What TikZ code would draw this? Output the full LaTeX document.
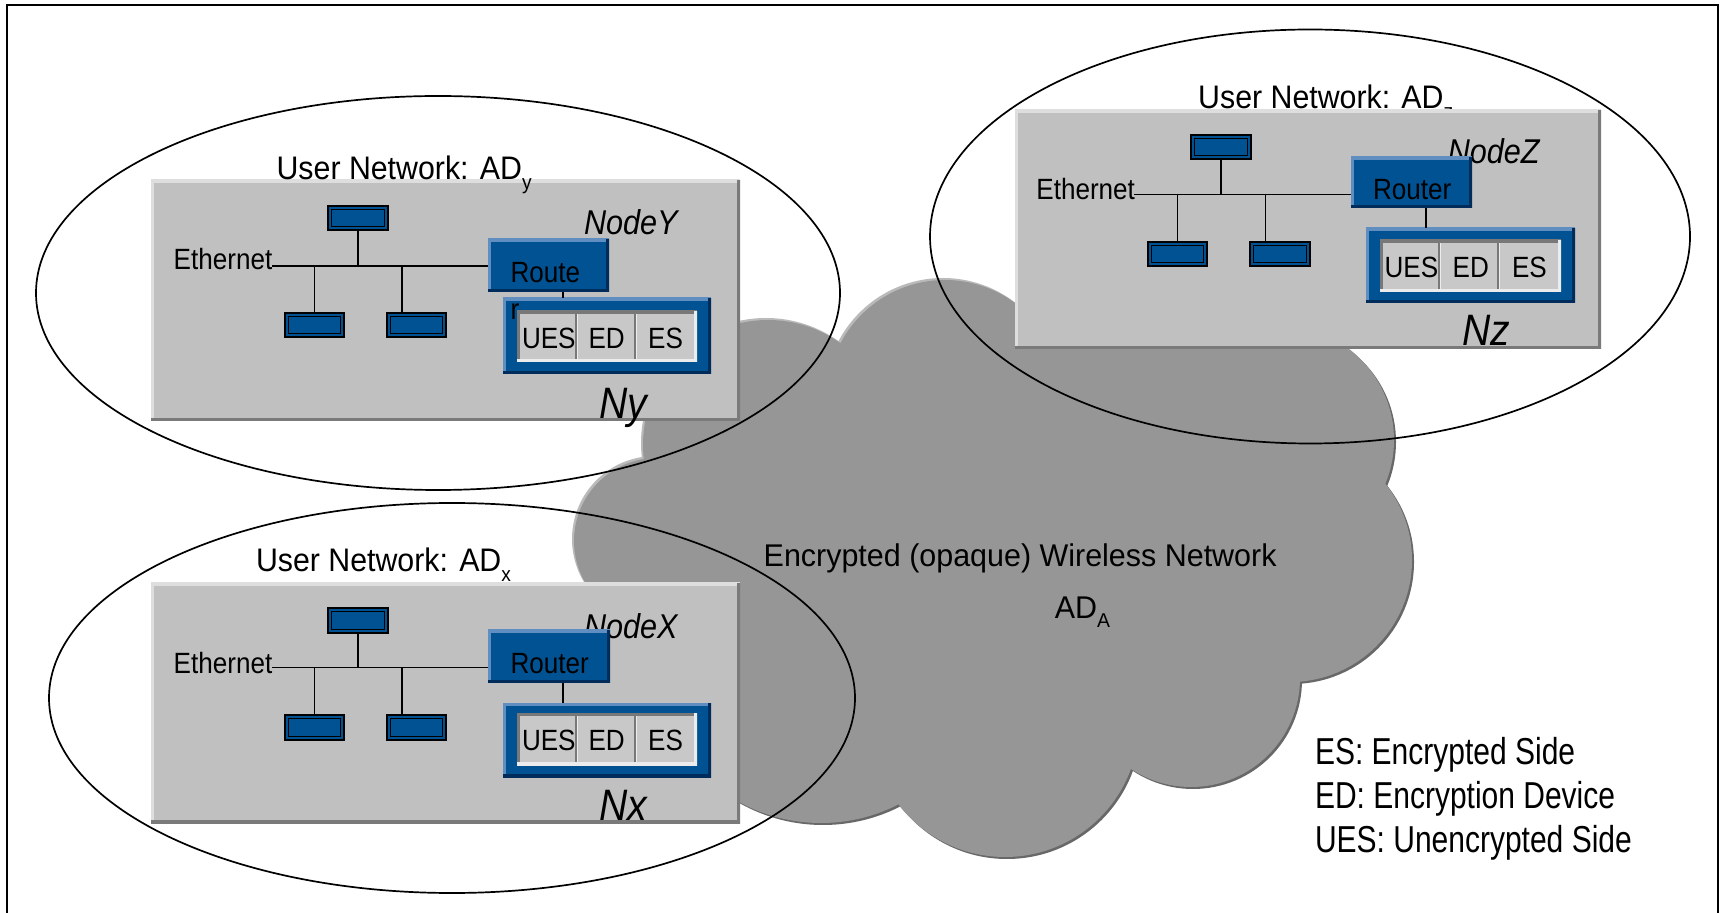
\documentclass[tikz,border=0pt]{standalone}
\usepackage{fontspec}
\setmainfont{Liberation Sans}
\newfontfamily\ftitle[FakeStretch=0.93]{Liberation Sans}
\newfontfamily\flab[FakeStretch=0.89]{Liberation Sans}
\newfontfamily\fcloud[FakeStretch=0.97]{Liberation Sans}
\newfontfamily\fleg[FakeStretch=0.80]{Liberation Sans}

\definecolor{panelgray}{RGB}{192,192,192}
\definecolor{panelhi}{RGB}{222,222,222}
\definecolor{panelsh}{RGB}{122,122,122}
\definecolor{netblue}{RGB}{0,82,147}
\definecolor{bluehi}{RGB}{96,142,192}
\definecolor{bluesh}{RGB}{0,44,92}
\definecolor{cellgray}{RGB}{200,200,200}
\definecolor{cellsh}{RGB}{120,120,120}
\definecolor{cellhi}{RGB}{236,236,236}
\definecolor{cloudgray}{RGB}{150,150,150}
\definecolor{cloudhi}{RGB}{186,186,186}
\definecolor{cloudsh}{RGB}{104,104,104}

% box node from its corner coordinates (x0,y0)-(x1,y1)
\newcommand\pbox[6]{%
  \node[#1,minimum width={((#5)-(#3))*0.5pt},minimum height={((#6)-(#4))*0.5pt}]
    (#2) at ({((#3)+(#5))/2},{((#4)+(#6))/2}) {};}
% lowered subscript: drop, size, text
\newcommand\lowsub[3]{\raisebox{-#1}{\fontsize{#2}{#2}\selectfont #3}}
% one layer of the cloud (union of bumps), colour and offset
\newcommand\cloudlayer[3]{%
  \begin{scope}[shift={(#2,#3)}]
    \foreach \cx/\cy/\rr in {768/445/125, 945/398/118, 1130/395/112, 1280/440/114,
        1290/560/122, 1191/678/109, 1005/723/134, 821/653/170, 657/541/83}
      {\fill[#1] (\cx,\cy) circle[radius=\rr];}
    \fill[#1] (768,445) -- (945,398) -- (1130,395) -- (1280,440) -- (1290,560)
      -- (1191,678) -- (1005,723) -- (821,653) -- (657,541) -- cycle;
  \end{scope}}
% grooves between the UES / ED / ES cells
\newcommand\cellsplit[1]{%
  \foreach \dx in {29.5pt,59pt}{
    \draw[divider] ([xshift=\dx,yshift=-1.5pt]#1.north west) -- ([xshift=\dx,yshift=1.5pt]#1.south west);
    \draw[cellhi,line width=0.5pt] ([xshift=\dx+0.8pt,yshift=-1.5pt]#1.north west) -- ([xshift=\dx+0.8pt,yshift=1.5pt]#1.south west);}}

\begin{document}
\begin{tikzpicture}[x=0.5pt,y=-0.5pt,
  every node/.style={inner sep=0pt,outer sep=0pt},
  rim/.style 2 args={path picture={
    \draw[#1,line width=3pt] (path picture bounding box.south west) -- (path picture bounding box.north west) -- (path picture bounding box.north east);
    \draw[#2,line width=3pt] (path picture bounding box.north east) -- (path picture bounding box.south east) -- (path picture bounding box.south west);}},
  panel/.style={fill=panelgray,rim={panelhi}{panelsh}},
  router/.style={fill=netblue,rim={bluehi}{bluesh}},
  encframe/.style={fill=netblue,rim={bluehi}{bluesh}},
  cellbox/.style={fill=cellgray,rim={cellsh}{cellhi}},
  station/.style={fill=netblue,draw=black,line width=1pt,
    path picture={\draw[black,line width=0.6pt]
      ([shift={(1.6pt,-1.6pt)}]path picture bounding box.north west) rectangle
      ([shift={(-1.6pt,1.6pt)}]path picture bounding box.south east);}},
  wire/.style={draw=black,line width=0.75pt},
  divider/.style={draw=cellsh,line width=1pt},
  ttl/.style={font=\ftitle\fontsize{16.3}{19}\selectfont,anchor=base west},
  lab/.style={font=\flab\fontsize{14.65}{18.5}\selectfont,anchor=base west},
  nodename/.style={font=\flab\itshape\fontsize{17.2}{20}\selectfont,anchor=base west},
  nname/.style={font=\flab\itshape\fontsize{22}{26}\selectfont,anchor=base west},
  cloudtxt/.style={font=\fcloud\fontsize{15.7}{19}\selectfont,anchor=base west},
  adline/.style={draw=black,line width=0.85pt},
]
\useasboundingbox (0,0) rectangle (1723,913);
% outer frame
\draw[line width=1pt] (7,913) -- (7,5) -- (1718,5) -- (1718,913);

% wireless cloud with bevelled rim
\cloudlayer{cloudhi}{-2}{-2}
\cloudlayer{cloudsh}{2}{2}
\cloudlayer{cloudgray}{0}{0}

% title of Z sits behind its panel
\node[ttl] (tZ) at (1198.2,108.3) {User Network: AD\lowsub{5pt}{10.3}{z}};

% panels
\pbox{panel}{pY}{151}{180}{740}{421}
\pbox{panel}{pZ}{1015}{110}{1601}{349}
\pbox{panel}{pX}{151}{583}{740}{823}

\node[ttl] (tY) at (276.6,180) {User Network: AD\lowsub{5pt}{10.3}{y}};
\node[ttl] (tX) at (256,571.7) {User Network: AD\lowsub{5pt}{10.3}{x}};

% ---------- node Y ----------
\node[lab] (ethY) at (173.7,270) {Ethernet};
\coordinate (busY) at (272,266);
\node[nodename] (nnY) at (584,235) {NodeY};
\pbox{router}{rY}{488}{239}{609}{292}
\draw[wire] (busY) -- (busY -| rY.west);
\pbox{station}{sY0}{328}{206}{388}{230}
\pbox{station}{sY1}{285}{313}{344}{337}
\pbox{station}{sY2}{387}{313}{446}{337}
\draw[wire] (sY0.south) -- (sY0.south |- busY);
\draw[wire] (sY1.north) -- (sY1.north |- busY);
\coordinate (dY2) at ([xshift=7.5pt]sY2.north west);
\draw[wire] (dY2) -- (dY2 |- busY);
\pbox{encframe}{eY}{503}{298}{711}{374}
\coordinate (lY) at ([xshift=37.5pt]rY.south west);
\draw[wire] (lY) -- (lY |- eY.north);
\pbox{cellbox}{cY}{517}{311}{697}{362}
\cellsplit{cY}
\node[lab] (uesY) at (522,348.3) {UES};
\node[lab] (edY) at (588.5,348.3) {ED};
\node[lab] (esY) at (648.2,348.3) {ES};
\node[lab] (rtY) at (510.5,282.7) {\begin{tabular}[t]{@{}l@{}}Route\\r\end{tabular}};
\node[nname] (NY) at (599.2,418.3) {Ny};

% ---------- node Z ----------
\node[lab] (ethZ) at (1036.4,199.3) {Ethernet};
\coordinate (busZ) at (1134,194.3);
\node[nodename] (nnZ) at (1447.8,164) {NodeZ};
\pbox{router}{rZ}{1351}{157}{1472}{208}
\draw[wire] (busZ) -- (busZ -| rZ.west);
\pbox{station}{sZ0}{1191}{135}{1251}{159}
\pbox{station}{sZ1}{1148}{242}{1207}{266}
\pbox{station}{sZ2}{1250}{242}{1310}{266}
\draw[wire] (sZ0.south) -- (sZ0.south |- busZ);
\draw[wire] (sZ1.north) -- (sZ1.north |- busZ);
\coordinate (dZ2) at ([xshift=7.65pt]sZ2.north west);
\draw[wire] (dZ2) -- (dZ2 |- busZ);
\node[lab] (rtZ) at (1373,199.3) {Router};
\pbox{encframe}{eZ}{1366}{228}{1575}{303}
\coordinate (lZ) at ([xshift=37.5pt]rZ.south west);
\draw[wire] (lZ) -- (lZ |- eZ.north);
\pbox{cellbox}{cZ}{1380}{240}{1561}{292}
\cellsplit{cZ}
\node[lab] (uesZ) at (1384.6,277.3) {UES};
\node[lab] (edZ) at (1452.7,277.3) {ED};
\node[lab] (esZ) at (1512,277.3) {ES};
\node[nname] (NZ) at (1462.3,346) {Nz};

% ---------- node X ----------
\node[lab] (ethX) at (173.7,673.3) {Ethernet};
\coordinate (busX) at (272,667.7);
\node[nodename] (nnX) at (584,638.3) {NodeX};
\pbox{router}{rX}{488}{630}{610}{683}
\draw[wire] (busX) -- (busX -| rX.west);
\pbox{station}{sX0}{328}{608}{388}{633}
\pbox{station}{sX1}{285}{715}{344}{740}
\pbox{station}{sX2}{387}{715}{446}{740}
\draw[wire] (sX0.south) -- (sX0.south |- busX);
\draw[wire] (sX1.north) -- (sX1.north |- busX);
\coordinate (dX2) at ([xshift=7.5pt]sX2.north west);
\draw[wire] (dX2) -- (dX2 |- busX);
\node[lab] (rtX) at (510.5,673.3) {Router};
\pbox{encframe}{eX}{503}{703}{711}{777}
\coordinate (lX) at ([xshift=37.5pt]rX.south west);
\draw[wire] (lX) -- (lX |- eX.north);
\pbox{cellbox}{cX}{517}{713}{697}{765}
\cellsplit{cX}
\node[lab] (uesX) at (522,750.7) {UES};
\node[lab] (edX) at (588.5,750.7) {ED};
\node[lab] (esX) at (648.2,750.7) {ES};
\node[nname] (NX) at (599.2,820) {Nx};

% ---------- cloud labels and legend ----------
\node[cloudtxt] (wan) at (763.7,566.4) {Encrypted (opaque) Wireless Network};
\node[cloudtxt] (adA) at (1054.8,618.2) {AD\lowsub{4.5pt}{10}{A}};
\node[font=\fleg\fontsize{18.75}{22}\selectfont,anchor=base west] (legend) at (1315,764)
  {\begin{tabular}[t]{@{}l@{}}ES: Encrypted Side\\ED: Encryption Device\\UES: Unencrypted Side\end{tabular}};

% administrative domains
\draw[adline] (438,293) ellipse[x radius=402,y radius=197];
\draw[adline] (1310,236.5) ellipse[x radius=380,y radius=207];
\draw[adline] (452,698) ellipse[x radius=403,y radius=195];
\end{tikzpicture}
\end{document}
